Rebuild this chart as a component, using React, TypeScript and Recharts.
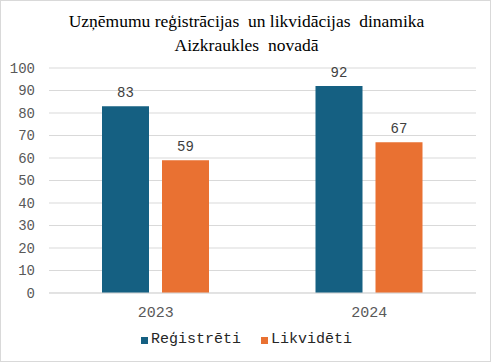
import React from "react";
import { BarChart, Bar, XAxis, YAxis, CartesianGrid, LabelList } from "recharts";

const categories = ["2023", "2024"];
const registered = [83, 92];
const liquidated = [59, 67];
const seriesNames = ["Reģistrēti", "Likvidēti"];
const seriesColors = ["#156082", "#E97132"];
const yTicks = [0, 10, 20, 30, 40, 50, 60, 70, 80, 90, 100];
const titleLines = ["Uzņēmumu reģistrācijas  un likvidācijas  dinamika", "Aizkraukles  novadā"];

const data = categories.map((c, i) => ({ year: c, reg: registered[i], liq: liquidated[i] }));
const mono = "'Liberation Mono', 'Courier New', monospace";

export default function App() {
  return (
    <div style={{ position: "absolute", left: 0, top: 0, width: 491, height: 362, boxSizing: "border-box", border: "1px solid #d9d9d9", background: "#fff" }}>
      <div style={{ position: "absolute", left: 0, top: 8, width: 491, textAlign: "center", fontFamily: "'Liberation Serif', 'Times New Roman', serif", fontSize: 17.5, lineHeight: "24px", color: "#000" }}>
        {titleLines.map((t, i) => (
          <div key={i} style={{ whiteSpace: "pre" }}>{t}</div>
        ))}
      </div>
      <div style={{ position: "absolute", left: -1, top: -1 }}>
        <BarChart width={491} height={362} data={data} margin={{ top: 68, right: 15, bottom: 39, left: 0 }} barGap={13} barSize={47}>
          <CartesianGrid vertical={false} stroke="#d9d9d9" />
          <XAxis dataKey="year" axisLine={{ stroke: "#d9d9d9" }} tickLine={false} tick={{ fill: "#595959", fontFamily: mono, fontSize: 15 }} tickMargin={7} height={30} />
          <YAxis domain={[0, 100]} ticks={yTicks} axisLine={false} tickLine={false} width={49} tickMargin={8} tick={{ fill: "#595959", fontFamily: mono, fontSize: 14 }} interval={0} />
          <Bar dataKey="reg" name={seriesNames[0]} fill={seriesColors[0]} isAnimationActive={false}>
            <LabelList dataKey="reg" position="top" offset={9} fill="#404040" fontFamily={mono} fontSize={14} />
          </Bar>
          <Bar dataKey="liq" name={seriesNames[1]} fill={seriesColors[1]} isAnimationActive={false}>
            <LabelList dataKey="liq" position="top" offset={9} fill="#404040" fontFamily={mono} fontSize={14} />
          </Bar>
        </BarChart>
      </div>
      <div style={{ position: "absolute", left: 0, top: 329, width: 491, display: "flex", justifyContent: "center", gap: 20, fontFamily: mono, fontSize: 15, color: "#262626", lineHeight: "20px" }}>
        {seriesNames.map((n, i) => (
          <div key={n} style={{ display: "flex", alignItems: "center" }}>
            <span style={{ display: "inline-block", width: 7, height: 7, background: seriesColors[i], marginRight: 3 }} />
            <span>{n}</span>
          </div>
        ))}
      </div>
    </div>
  );
}
